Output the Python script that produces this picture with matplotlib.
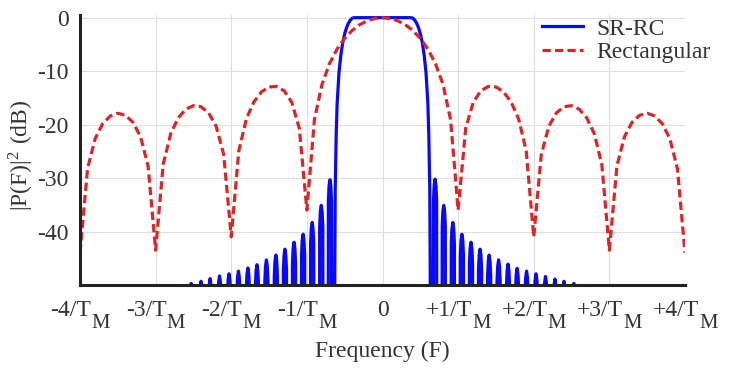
import numpy as np
import matplotlib.pyplot as plt

plt.rcParams['font.family'] = ['Liberation Serif', 'DejaVu Serif']
plt.rcParams['mathtext.fontset'] = 'stix'

FS = 17

# Rectangular pulse, |P(F)|^2 in dB read every 0.1/T_M from -4 to +4
rect_f = np.linspace(-4, 4, 81)
rect_db = [-44.0, -28.25, -22.65, -19.84, -18.39, -17.89, -18.25, -19.57, -22.24, -27.71,
           -43.5, -27.43, -21.68, -18.72, -17.11, -16.46, -16.66, -17.80, -20.30, -25.58,
           -41.0, -24.90, -18.93, -15.74, -13.88, -12.96, -12.86, -13.68, -15.82, -20.70,
           -36.0, -19.05, -12.48, -8.58, -5.86, -3.87, -2.38, -1.31, -0.57, -0.14,
           0.0,
           -0.14, -0.57, -1.31, -2.38, -3.87, -5.86, -8.58, -12.48, -19.05,
           -36.0, -20.70, -15.82, -13.68, -12.86, -12.96, -13.88, -15.74, -18.93, -24.90,
           -41.0, -25.58, -20.30, -17.80, -16.66, -16.46, -17.11, -18.72, -21.68, -27.43,
           -43.5, -27.71, -22.24, -19.57, -18.25, -17.89, -18.39, -19.84, -22.65, -28.25,
           -44.0]

# SR-RC main lobe
main_f_left = [-0.635, -0.625, -0.6125, -0.60, -0.575, -0.55, -0.525, -0.50, -0.475, -0.45, -0.425, -0.40, -0.375]
main_db_left = [-60.0, -32.0, -22.0, -16.1, -10.2, -6.9, -4.6, -3.0, -1.85, -1.0, -0.45, -0.1, 0.0]
main_f_right = [0.375, 0.40, 0.425, 0.45, 0.475, 0.50, 0.525, 0.55, 0.575, 0.60, 0.6125, 0.625, 0.635]
main_db_right = [0.0, -0.1, -0.45, -1.0, -1.85, -3.0, -4.6, -6.9, -10.2, -16.1, -22.0, -32.0, -60.0]

# SR-RC sidelobe ripples: peak positions / levels
rip_f_left = [-2.53, -2.40, -2.28, -2.155, -2.03, -1.905, -1.78, -1.66, -1.535, -1.41, -1.29, -1.17, -1.05, -0.93, -0.81, -0.695]
rip_db_left = [-49.7, -49.3, -48.8, -48.3, -47.9, -47.4, -46.8, -46.2, -45.3, -44.4, -43.3, -42.0, -40.5, -38.3, -35.1, -30.3]
rip_f_right = [0.695, 0.81, 0.93, 1.05, 1.17, 1.29, 1.41, 1.535, 1.66, 1.78, 1.905, 2.03, 2.155, 2.28, 2.40, 2.53]
rip_db_right = [-30.2, -35.1, -38.3, -40.5, -42.0, -43.3, -44.4, -45.3, -46.1, -46.9, -47.4, -47.9, -48.4, -48.9, -49.3, -49.7]

# outline of one ripple arch: offset from its peak (1/T_M) and drop below the peak (dB);
# the sides fall straight through the bottom of the axis
arch_df = [-0.026, -0.021, -0.012, 0.0, 0.012, 0.021, 0.026]
arch_drop = [100.0, 4.0, 1.2, 0.0, 1.2, 4.0, 100.0]

xtick_vals = [-4, -3, -2, -1, 0, 1, 2, 3, 4]
xtick_text = ['-4/T', '-3/T', '-2/T', '-1/T', '0', '+1/T', '+2/T', '+3/T', '+4/T']
ytick_vals = [0, -10, -20, -30, -40]
ytick_text = ['0', '-10', '-20', '-30', '-40']


def comb(peak_f, peak_db):
    f, db = [], []
    for pf, pd in zip(peak_f, peak_db):
        for d, drop in zip(arch_df, arch_drop):
            f.append(pf + d)
            db.append(pd - drop)
    return f, db


lf, ldb = comb(rip_f_left, rip_db_left)
rf, rdb = comb(rip_f_right, rip_db_right)
sr_f = lf + main_f_left + main_f_right + rf
sr_db = ldb + main_db_left + main_db_right + rdb

fig = plt.figure(figsize=(7.32, 3.70), dpi=100)
ax = fig.add_axes([80/732, 1-285/370, 605/732, 270/370])

ax.plot(sr_f, sr_db, color='#0808ff', lw=2.3, label='SR-RC', zorder=3)
ax.plot(rect_f, rect_db, color='#e02424', lw=2.3, ls=(0, (2.6, 1.3)),
        label='Rectangular', zorder=4)

ax.set_xlim(-4, 4)
ax.set_ylim(-50, 0.5)
ax.set_xticks(xtick_vals)
ax.set_xticklabels([])
ax.set_yticks(ytick_vals)
ax.set_yticklabels(ytick_text)
ax.tick_params(length=0, labelsize=FS, colors='#333333', pad=8)
ax.grid(True, color='#dedede', lw=0.8)
ax.set_axisbelow(True)
for s in ['top', 'right']:
    ax.spines[s].set_visible(False)
for s in ['left', 'bottom']:
    ax.spines[s].set_linewidth(2.2)
    ax.spines[s].set_color('#222222')
    ax.spines[s].set_zorder(5)

# x tick labels with a large, dropped "M" subscript
fig.canvas.draw()
r = fig.canvas.get_renderer()
pt = 72.0 / fig.dpi
for v, lab in zip(xtick_vals, xtick_text):
    t1 = ax.annotate(lab, xy=(v, 0), xycoords=('data', 'axes fraction'),
                     xytext=(0, -31*pt), textcoords='offset points',
                     ha='left', va='baseline', fontsize=FS, color='#333333')
    w1 = t1.get_window_extent(r).width
    if lab == '0':
        t1.set_position((-w1/2*pt, -31*pt))
        continue
    t2 = ax.annotate('M', xy=(v, 0), xycoords=('data', 'axes fraction'),
                     xytext=(0, -43*pt), textcoords='offset points',
                     ha='left', va='baseline', fontsize=FS*0.88, color='#333333')
    w2 = t2.get_window_extent(r).width
    x0 = -(w1 + w2) / 2
    t1.set_position((x0*pt, -31*pt))
    t2.set_position(((x0 + w1)*pt, -43*pt))

fig.text(382/732, 1-351/370, 'Frequency (F)', ha='center', va='center',
         fontsize=FS, color='#333333')
fig.text(21/732, 1-155/370, r'|P(F)|$^\mathregular{2}$ (dB)', ha='center', va='center',
         rotation=90, fontsize=FS, color='#333333')

leg = ax.legend(loc='upper right', bbox_to_anchor=(711/732, 1-18/370),
                bbox_transform=fig.transFigure, frameon=False, fontsize=FS,
                handlelength=1.7, handletextpad=0.6, labelspacing=0.1,
                borderpad=0, borderaxespad=0)
for t in leg.get_texts():
    t.set_color('#333333')

fig.savefig('out.png', dpi=100)
